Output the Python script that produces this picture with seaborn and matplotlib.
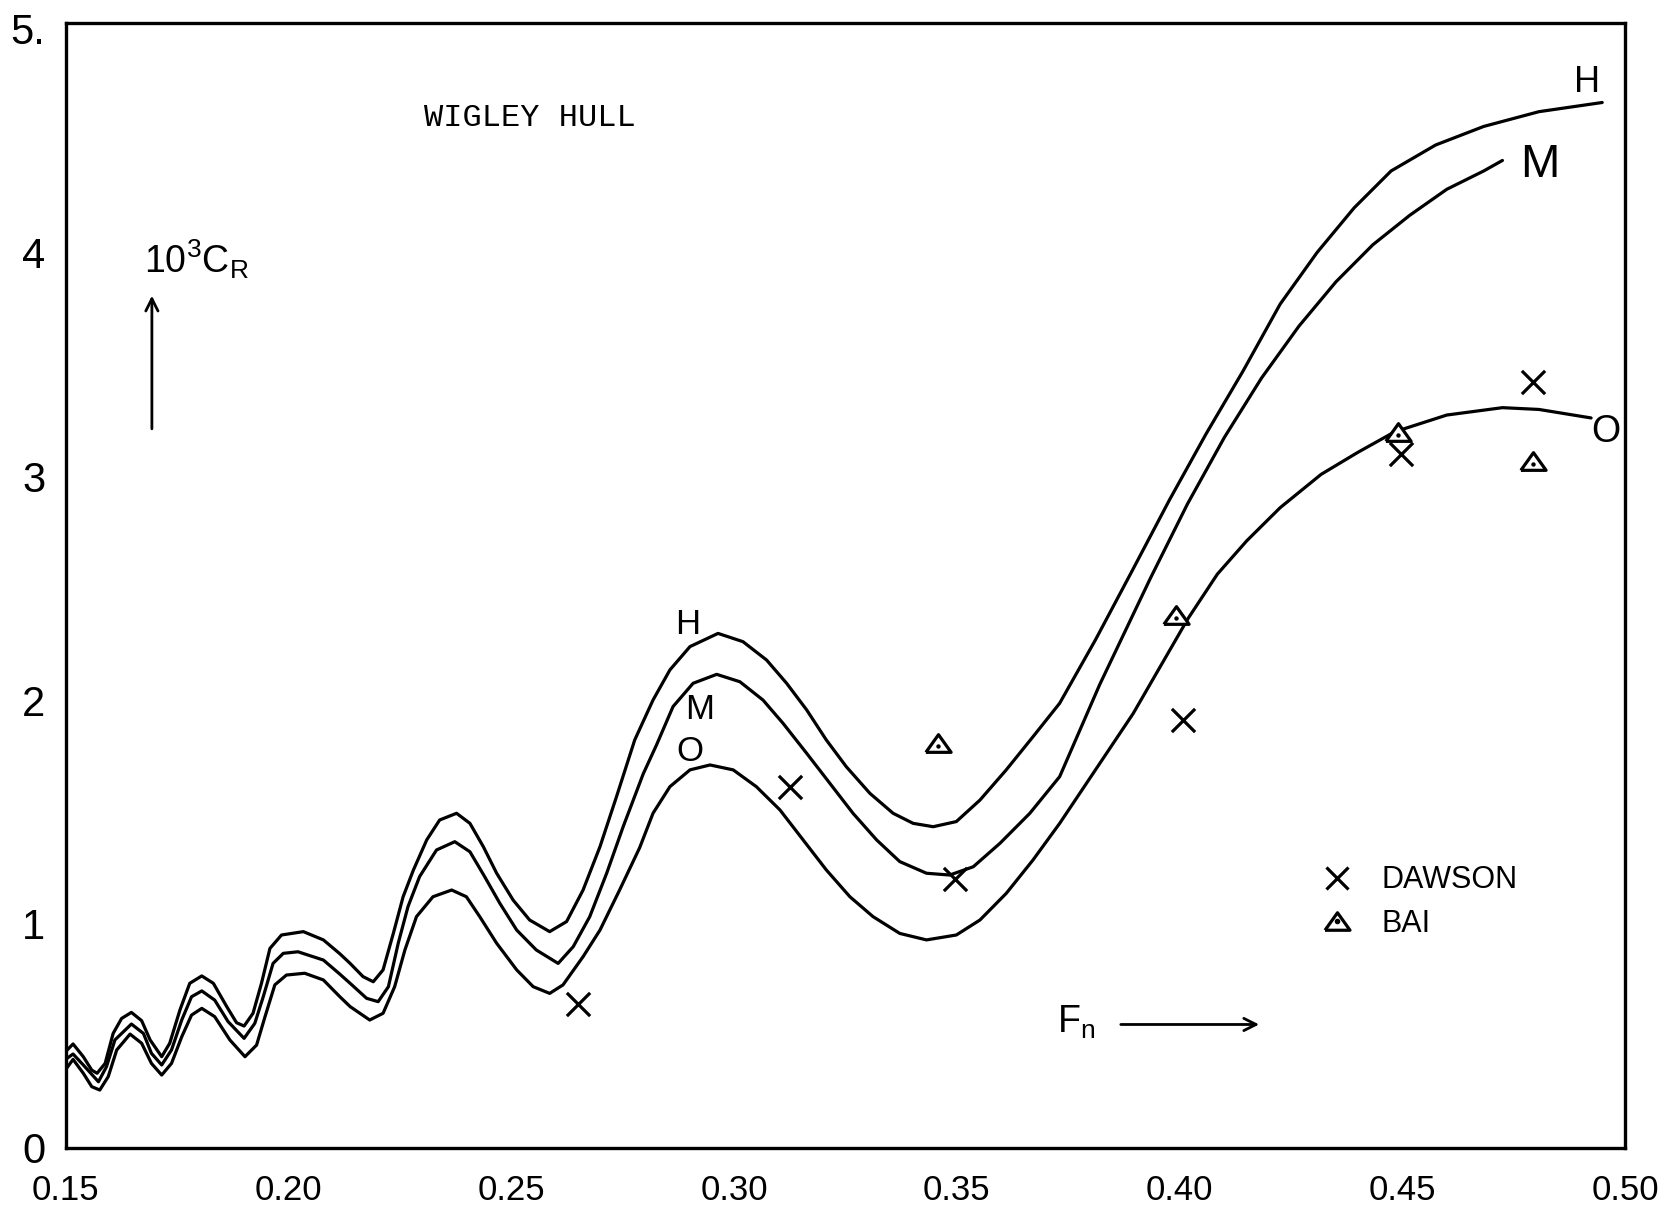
import matplotlib
matplotlib.use("Agg")
import matplotlib.pyplot as plt
from matplotlib.lines import Line2D
from matplotlib.legend_handler import HandlerTuple
import numpy as np
import pandas as pd
import seaborn as sns

# Wave resistance coefficient 10^3 C_R versus Froude number, Wigley hull
fn_h = [0.1500, 0.1516, 0.1539, 0.1558, 0.1570, 0.1588, 0.1606, 0.1625, 0.1647, 0.1670,
        0.1689, 0.1715, 0.1733, 0.1756, 0.1778, 0.1805, 0.1831, 0.1861, 0.1883, 0.1900,
        0.1920, 0.1939, 0.1958, 0.1984, 0.2033, 0.2078, 0.2115, 0.2138, 0.2167, 0.2190,
        0.2212, 0.2235, 0.2257, 0.2280, 0.2310, 0.2339, 0.2377, 0.2407, 0.2437, 0.2467,
        0.2504, 0.2541, 0.2586, 0.2624, 0.2661, 0.2699, 0.2736, 0.2777, 0.2818, 0.2856,
        0.2901, 0.2964, 0.3020, 0.3073, 0.3118, 0.3163, 0.3207, 0.3252, 0.3305, 0.3357,
        0.3402, 0.3447, 0.3499, 0.3552, 0.3611, 0.3671, 0.3731, 0.3811, 0.3894, 0.3977,
        0.4060, 0.4143, 0.4226, 0.4309, 0.4392, 0.4475, 0.4575, 0.4683, 0.4807, 0.4949]
cr_h = [0.430, 0.463, 0.406, 0.346, 0.332, 0.376, 0.510, 0.577, 0.604, 0.567,
        0.481, 0.406, 0.466, 0.615, 0.734, 0.767, 0.734, 0.630, 0.558, 0.543,
        0.600, 0.734, 0.890, 0.950, 0.965, 0.928, 0.866, 0.823, 0.764, 0.741,
        0.794, 0.957, 1.121, 1.240, 1.375, 1.464, 1.494, 1.449, 1.345, 1.226,
        1.106, 1.017, 0.965, 1.010, 1.151, 1.345, 1.568, 1.822, 2.000, 2.135,
        2.239, 2.298, 2.261, 2.179, 2.075, 1.956, 1.822, 1.702, 1.583, 1.494,
        1.449, 1.434, 1.457, 1.553, 1.688, 1.836, 1.986, 2.268, 2.579, 2.893,
        3.191, 3.472, 3.770, 4.001, 4.200, 4.365, 4.481, 4.564, 4.630, 4.671]

fn_m = [0.1500, 0.1516, 0.1539, 0.1573, 0.1591, 0.1610, 0.1647, 0.1674, 0.1692, 0.1715,
        0.1737, 0.1760, 0.1782, 0.1805, 0.1834, 0.1864, 0.1900, 0.1924, 0.1943, 0.1965,
        0.1988, 0.2021, 0.2078, 0.2115, 0.2138, 0.2175, 0.2201, 0.2224, 0.2246, 0.2268,
        0.2294, 0.2332, 0.2373, 0.2407, 0.2440, 0.2474, 0.2512, 0.2556, 0.2605, 0.2639,
        0.2676, 0.2714, 0.2751, 0.2796, 0.2826, 0.2863, 0.2908, 0.2961, 0.3013, 0.3065,
        0.3110, 0.3163, 0.3215, 0.3267, 0.3320, 0.3372, 0.3432, 0.3484, 0.3537, 0.3597,
        0.3664, 0.3731, 0.3821, 0.3935, 0.4018, 0.4101, 0.4184, 0.4268, 0.4351, 0.4434,
        0.4517, 0.4600, 0.4683, 0.4725]
cr_m = [0.395, 0.418, 0.369, 0.294, 0.361, 0.481, 0.552, 0.510, 0.421, 0.369,
        0.436, 0.570, 0.674, 0.700, 0.659, 0.563, 0.488, 0.555, 0.674, 0.823,
        0.868, 0.875, 0.838, 0.775, 0.734, 0.667, 0.652, 0.719, 0.913, 1.077,
        1.211, 1.330, 1.367, 1.322, 1.211, 1.092, 0.972, 0.883, 0.823, 0.898,
        1.032, 1.226, 1.434, 1.670, 1.800, 1.971, 2.075, 2.115, 2.082, 2.000,
        1.896, 1.762, 1.628, 1.494, 1.375, 1.278, 1.226, 1.218, 1.255, 1.360,
        1.494, 1.658, 2.070, 2.546, 2.877, 3.175, 3.439, 3.671, 3.869, 4.035,
        4.167, 4.283, 4.365, 4.412]

fn_o = [0.1500, 0.1516, 0.1539, 0.1558, 0.1576, 0.1595, 0.1614, 0.1644, 0.1670, 0.1692,
        0.1715, 0.1737, 0.1760, 0.1782, 0.1805, 0.1834, 0.1868, 0.1902, 0.1928, 0.1947,
        0.1969, 0.1995, 0.2036, 0.2078, 0.2115, 0.2138, 0.2182, 0.2212, 0.2238, 0.2261,
        0.2287, 0.2324, 0.2366, 0.2399, 0.2429, 0.2467, 0.2512, 0.2549, 0.2586, 0.2616,
        0.2661, 0.2699, 0.2743, 0.2788, 0.2818, 0.2856, 0.2901, 0.2946, 0.2998, 0.3050,
        0.3103, 0.3155, 0.3207, 0.3260, 0.3312, 0.3372, 0.3432, 0.3499, 0.3552, 0.3611,
        0.3671, 0.3731, 0.3896, 0.4019, 0.4085, 0.4151, 0.4226, 0.4318, 0.4401, 0.4483,
        0.4600, 0.4725, 0.4807, 0.4924]
cr_o = [0.350, 0.394, 0.332, 0.272, 0.257, 0.317, 0.436, 0.507, 0.466, 0.376,
        0.324, 0.376, 0.495, 0.592, 0.622, 0.585, 0.481, 0.406, 0.458, 0.585,
        0.727, 0.771, 0.779, 0.749, 0.674, 0.630, 0.570, 0.600, 0.719, 0.883,
        1.032, 1.121, 1.151, 1.121, 1.032, 0.913, 0.794, 0.719, 0.689, 0.727,
        0.853, 0.972, 1.151, 1.340, 1.494, 1.613, 1.688, 1.710, 1.688, 1.613,
        1.509, 1.375, 1.241, 1.121, 1.032, 0.957, 0.928, 0.950, 1.017, 1.136,
        1.285, 1.449, 1.940, 2.364, 2.563, 2.712, 2.860, 3.009, 3.108, 3.199,
        3.274, 3.307, 3.299, 3.261]

dawson_fn = [0.265, 0.3125, 0.3496, 0.4007, 0.4498, 0.4794]
dawson_cr = [0.64, 1.61, 1.20, 1.91, 3.10, 3.42]
bai_fn = [0.3458, 0.3992, 0.4490, 0.4794]
bai_cr = [1.81, 2.38, 3.20, 3.07]

x_ticks = [0.15, 0.20, 0.25, 0.30, 0.35, 0.40, 0.45, 0.50]
x_labels = ["0.15", "0.20", "0.25", "0.30", "0.35", "0.40", "0.45", "0.50"]
y_ticks = [0, 1, 2, 3, 4, 5]
y_labels = ["0", "1", "2", "3", "4", "5."]

sns.set_style("white")
hand = ["Liberation Sans", "DejaVu Sans"]
plt.rcParams["font.family"] = hand
plt.rcParams["mathtext.fontset"] = "custom"
plt.rcParams["mathtext.rm"] = "Liberation Sans"
plt.rcParams["mathtext.it"] = "Liberation Sans"
plt.rcParams["mathtext.default"] = "regular"
for key in ["text.color", "axes.labelcolor", "xtick.color", "ytick.color"]:
    plt.rcParams[key] = "black"

curves = pd.concat([
    pd.DataFrame({"Fn": fn_h, "CR": cr_h, "curve": "H"}),
    pd.DataFrame({"Fn": fn_m, "CR": cr_m, "curve": "M"}),
    pd.DataFrame({"Fn": fn_o, "CR": cr_o, "curve": "O"}),
], ignore_index=True)

fig = plt.figure(figsize=(16.69, 12.26), dpi=100)
ax = fig.add_axes([0.0395, 0.064, 0.9341, 0.917])

sns.lineplot(data=curves, x="Fn", y="CR", units="curve", estimator=None,
             sort=False, color="black", linewidth=2.3, ax=ax, legend=False,
             solid_joinstyle="round", solid_capstyle="round")

tri = [(-1.0, -0.7), (1.0, -0.7), (0.0, 0.7), (-1.0, -0.7)]
sns.scatterplot(x=dawson_fn, y=dawson_cr, marker="x", s=280, color="black",
                linewidth=2.3, ax=ax, legend=False, zorder=4)
sns.scatterplot(x=bai_fn, y=bai_cr, marker=tri, s=330, facecolor="white",
                edgecolor="black", linewidth=2.3, ax=ax, legend=False, zorder=4)
sns.scatterplot(x=bai_fn, y=np.array(bai_cr) - 0.015, marker="o", s=10,
                color="black", linewidth=0, ax=ax, legend=False, zorder=5)

ax.set_xlim(0.15, 0.50)
ax.set_ylim(0, 5.025)
ax.set_xticks(x_ticks)
ax.set_xticklabels(x_labels, fontsize=25)
ax.set_yticks(y_ticks)
ax.set_yticklabels(y_labels, fontsize=30)
ax.tick_params(axis="x", direction="in", length=19, width=1.8, pad=19)
ax.tick_params(axis="y", direction="in", length=15, width=1.8, pad=15)
ax.set_xlabel("")
ax.set_ylabel("")
for side in ["left", "right", "top", "bottom"]:
    ax.spines[side].set_visible(True)
    ax.spines[side].set_color("black")
    ax.spines[side].set_linewidth(2.4)

ax.text(0.2304, 4.60, "WIGLEY HULL", family="Liberation Mono", fontsize=23,
        ha="left", va="center")

ax.text(0.1675, 3.97, r"$10^3C_R$", fontsize=27, ha="left", va="center")
ax.annotate("", xy=(0.1693, 3.82), xytext=(0.1693, 3.20),
            arrowprops=dict(arrowstyle="->", lw=2.0, color="black",
                            mutation_scale=22))
ax.text(0.3725, 0.56, r"$F_n$", fontsize=27, ha="left", va="center")
ax.annotate("", xy=(0.4185, 0.55), xytext=(0.3862, 0.55),
            arrowprops=dict(arrowstyle="->", lw=2.0, color="black",
                            mutation_scale=22))

# curve labels
for x, y, s, fs in [(0.2895, 2.34, "H", 25), (0.2923, 1.96, "M", 25),
                    (0.2900, 1.77, "O", 25), (0.4914, 4.76, "H", 26),
                    (0.4809, 4.39, "M", 34), (0.4958, 3.20, "O", 27)]:
    ax.text(x, y, s, fontsize=fs, ha="center", va="center")

h_daw = Line2D([], [], marker="x", ls="", color="black", ms=16, mew=2.3)
h_tri = Line2D([], [], marker=tri, ls="", mfc="white", mec="black", ms=18, mew=2.3)
h_dot = Line2D([], [], marker="o", ls="", color="black", ms=3)
ax.legend([h_daw, (h_tri, h_dot)], ["DAWSON", "BAI"],
          handler_map={tuple: HandlerTuple(ndivide=1)},
          loc="upper left", bbox_to_anchor=(0.4275, 1.33),
          bbox_transform=ax.transData, frameon=False, fontsize=22,
          borderpad=0, handlelength=1.3, handletextpad=0.8, labelspacing=0.45)

fig.savefig("out.png", dpi=100, facecolor="white")
